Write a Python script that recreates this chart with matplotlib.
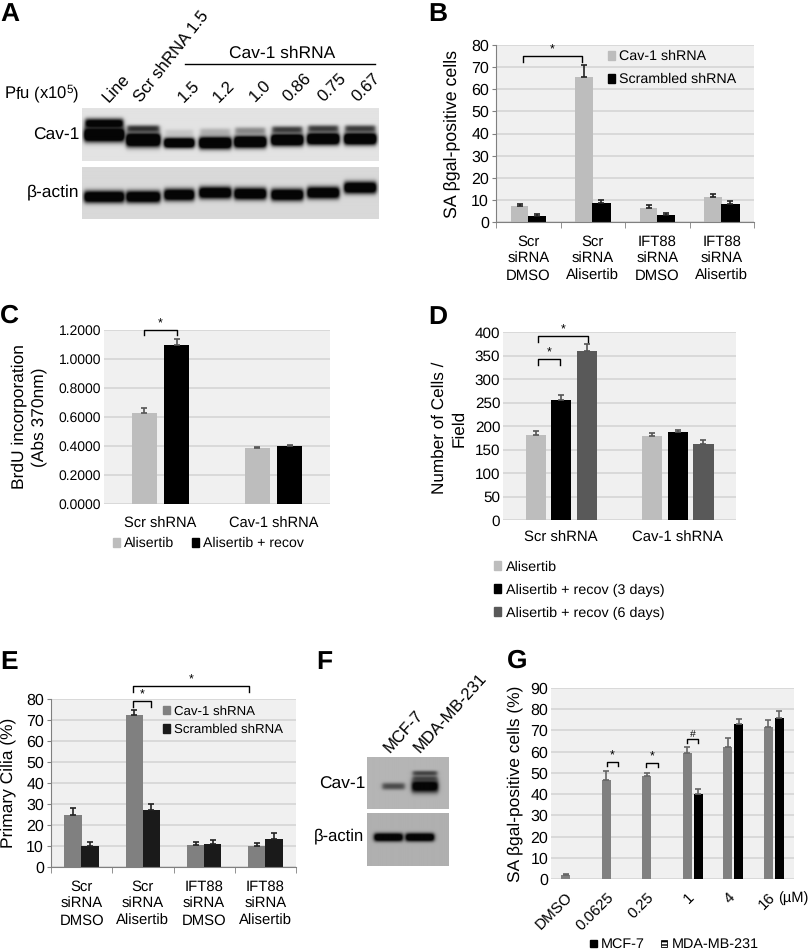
import matplotlib
matplotlib.use("Agg")
import matplotlib.pyplot as plt
import numpy as np
from matplotlib.patches import Patch

plt.rcParams["font.family"] = ["Liberation Sans", "DejaVu Sans"]
plt.rcParams["mathtext.default"] = "regular"
plt.rcParams["text.hinting"] = "none"

W, H = 810, 952

# Panel B
sen_groups = ["Scr\nsiRNA\nDMSO", "Scr\nsiRNA\nAlisertib", "IFT88\nsiRNA\nDMSO", "IFT88\nsiRNA\nAlisertib"]
b_cav = [7.3, 65.5, 6.5, 11.3]
b_cav_err = [0.7, 5.5, 1.0, 1.4]
b_scr = [2.7, 8.5, 3.3, 8.0]
b_scr_err = [1.0, 1.4, 0.9, 1.4]

# Panel C
shrna_groups = ["Scr shRNA", "Cav-1 shRNA"]
c_ali = [0.627, 0.389]
c_ali_err = [0.036, 0.006]
c_rec = [1.094, 0.398]
c_rec_err = [0.046, 0.012]

# Panel D
d_ali = [181, 178]
d_ali_err = [9, 8]
d_rec3 = [256, 187]
d_rec3_err = [10, 5]
d_rec6 = [359, 162]
d_rec6_err = [15, 9]

# Panel E
e_cav = [25, 72.5, 10.5, 9.8]
e_cav_err = [3, 2.3, 1.2, 1.4]
e_scr = [9.8, 27, 11, 13.2]
e_scr_err = [1.9, 3, 1.7, 2.8]

# Panel G
g_doses = ["DMSO", "0.0625", "0.25", "1", "4", "16"]
g_mcf = [1.9, 46.5, 48.5, 59.6, 62.3, 71.8]
g_mcf_err = [0.3, 4.2, 1.5, 2.8, 4.2, 3.0]
g_mda = [np.nan, np.nan, np.nan, 40.2, 73.2, 76.0]
g_mda_err = [0, 0, 0, 2.2, 2.2, 3.0]

# Panel A blot, one entry per lane
a_lanes = ["Line", "Scr shRNA 1.5", "1.5", "1.2", "1.0", "0.86", "0.75", "0.67"]
a_label_x = [108, 141, 184, 219, 256, 289, 324, 358]
a_label_rot = [47, 52, 45, 45, 45, 45, 45, 45]
a_lane_x = [104, 143, 179, 215, 250, 287, 323, 360]
a_lane_w = [20, 17, 15, 16, 16, 16, 16, 16]
a_cav_hi_y = [124, 129, 133, 132, 131, 130, 129, 129]
a_cav_hi_d = [1.2, 0.8, 0.13, 0.22, 0.4, 0.75, 0.75, 0.75]
a_cav_lo_y = [135, 140, 143, 143, 142, 140, 139, 139]
a_cav_lo_h = [7, 7, 5, 6, 6, 6, 6, 6]
a_actin_y = [197, 197, 195, 193, 194, 195, 193, 188]

# Panel F blot
f_lanes = ["MCF-7", "MDA-MB-231"]
f_label_x = [391, 421]
f_lane_x = [393, 424]
f_lane_w = [11, 13]
f_cav_hi_d = [0.0, 0.65]
f_cav_mid_d = [0.0, 0.55]
f_cav_lo_d = [0.6, 1.2]
f_cav_lo_h = [3.5, 6.5]
f_actin_x = [388, 419]
f_actin_w = [14, 14]

LIGHT, DARK, MID = "#bdbdbd", "#000000", "#595959"
GREY, NEAR_BLACK = "#808080", "#1a1a1a"
BG, GRID = "#f0f0f0", "#d9d9d9"

fig = plt.figure(figsize=(W / 100, H / 100), dpi=100, facecolor="white")
page = fig.add_axes([0, 0, 1, 1])
page.set_xlim(0, W)
page.set_ylim(H, 0)
page.axis("off")


def chart(x0, y0, x1, y1, ymax, step, n, fs=9.5, fmt=None, axis_line=False):
    ax = fig.add_axes([x0 / W, 1 - y1 / H, (x1 - x0) / W, (y1 - y0) / H], facecolor=BG)
    ax.set_xlim(0, n)
    ax.set_ylim(0, ymax)
    ticks = np.arange(0, ymax + step / 2, step)
    ax.set_yticks(ticks)
    ax.set_yticklabels([fmt % t if fmt else "%d" % t for t in ticks], fontsize=fs)
    ax.grid(axis="y", color=GRID, lw=1.4)
    ax.set_axisbelow(True)
    for s in ["top", "right"]:
        ax.spines[s].set_visible(False)
    for s in ["left", "bottom"]:
        ax.spines[s].set_visible(axis_line)
        ax.spines[s].set_color("#808080")
    ax.tick_params(axis="y", length=3 if axis_line else 0, color="#808080", pad=2)
    ax.tick_params(axis="x", length=0, labelsize=fs)
    ax.set_xticks(np.arange(n) + 0.5)
    if axis_line:
        ax.set_xticks(np.arange(n + 1), minor=True)
        ax.tick_params(axis="x", which="minor", length=4, color="#808080")
    return ax


def bars(ax, offset, width, values, errs, color, ecolor):
    x = np.arange(len(values)) + 0.5 + offset
    ax.bar(x, values, width, color=color, zorder=2)
    ax.errorbar(x, values, yerr=[np.zeros(len(errs)), errs], fmt="none", ecolor=ecolor,
                elinewidth=1.2, capsize=2.5, capthick=1.2, zorder=3)


def bracket(ax, x0, x1, y, drop, mark="*", fs=9):
    ax.plot([x0, x0, x1, x1], [y - drop, y, y, y - drop], color="black", lw=1,
            clip_on=False, zorder=5)
    ax.text((x0 + x1) / 2, y, mark, ha="center", va="bottom", fontsize=fs, clip_on=False)


def key(ax, handles_colors, labels, x, y, fs, ncol=1, spacing=0.7, colgap=1.2):
    hs = [Patch(color=c, label=l) for c, l in zip(handles_colors, labels)]
    ax.legend(handles=hs, loc="upper left", bbox_to_anchor=(x, y), bbox_transform=page.transData,
              frameon=False, fontsize=fs, ncol=ncol, handlelength=0.5, handleheight=0.6,
              handletextpad=0.3, labelspacing=spacing, columnspacing=colgap,
              borderpad=0, borderaxespad=0)


def band(xx, yy, cx, cy, hw, hh, d, soft=2.2):
    bx = 0.5 * (np.tanh((xx - cx + hw) / soft) - np.tanh((xx - cx - hw) / soft))
    by = np.exp(-np.abs((yy - cy) / hh) ** 2.5)
    return d * bx * by


def blot(x0, y0, x1, y1, bg, rows):
    xx, yy = np.meshgrid(np.arange(x0, x1, 0.5), np.arange(y0, y1, 0.5))
    clear = np.ones_like(xx)
    for cx, cy, hw, hh, d in rows:
        clear *= 1 - np.clip(band(xx, yy, cx, cy, hw, hh, d), 0, 1)
    img = (bg * clear) + 0.02 * (1 - clear)
    ax = fig.add_axes([x0 / W, 1 - y1 / H, (x1 - x0) / W, (y1 - y0) / H])
    ax.imshow(img, cmap="gray", vmin=0, vmax=1, aspect="auto", interpolation="bilinear")
    ax.axis("off")


def letter(x, y, s):
    page.text(x, y, s, fontsize=19, fontweight="bold", va="baseline")


# A
rows = []
for i in range(len(a_lanes)):
    rows.append((a_lane_x[i], a_cav_hi_y[i], a_lane_w[i] - 1, 5 if i == 0 else 3.5, a_cav_hi_d[i]))
    rows.append((a_lane_x[i], a_cav_lo_y[i], a_lane_w[i], a_cav_lo_h[i], 1.6))
blot(82, 108, 379, 161, 0.89, rows)
blot(82, 167, 379, 219, 0.85,
     [(a_lane_x[i], a_actin_y[i], a_lane_w[i], 6, 1.4) for i in range(len(a_lanes))])
letter(0, 21, "A")
page.text(4, 94, "Pfu (x10$^5$)", fontsize=12, va="center")
page.text(79, 135, "Cav-1", fontsize=12.5, ha="right", va="center")
page.text(79, 192, "β-actin", fontsize=12.5, ha="right", va="center")
page.text(282, 53, "Cav-1 shRNA", fontsize=12.5, ha="center", va="center")
page.plot([185, 375], [64, 64], color="black", lw=1)
for i, lab in enumerate(a_lanes):
    page.text(a_label_x[i], 103, lab, fontsize=12.2, rotation=a_label_rot[i], rotation_mode="anchor",
              ha="left", va="baseline")

# B
ax = chart(496, 45, 754, 222, 80, 10, 4, fs=11.5, axis_line=True)
bars(ax, -0.135, 0.27, b_cav, b_cav_err, LIGHT, "#222222")
bars(ax, 0.135, 0.29, b_scr, b_scr_err, DARK, "#222222")
ax.set_xticklabels(sen_groups, fontsize=10.7, linespacing=1.3)
ax.tick_params(axis="x", pad=9)
bracket(ax, 0.413, 1.34, 75, 2.5)
key(ax, [LIGHT, DARK], ["Cav-1 shRNA", "Scrambled shRNA"], 608, 50, 10.3)
page.text(452, 134, "SA βgal-positive cells", fontsize=12.8, rotation=90, ha="center", va="center")
letter(428, 21, "B")

# C
ax = chart(104, 330, 330, 504, 1.2, 0.2, 2, fs=10, fmt="%.4f")
bars(ax, -0.143, 0.22, c_ali, c_ali_err, LIGHT, "#555555")
bars(ax, 0.143, 0.22, c_rec, c_rec_err, DARK, "#555555")
ax.set_xticklabels(shrna_groups, fontsize=10.5)
ax.tick_params(axis="x", pad=9)
bracket(ax, 0.354, 0.65, 1.2, 0.035)
key(ax, [LIGHT, DARK], ["Alisertib", "Alisertib + recov"], 113, 537, 10.2, ncol=2)
page.text(29, 417, "BrdU incorporation\n(Abs 370nm)", fontsize=12.5, rotation=90, ha="center",
          va="center", linespacing=1.3, multialignment="center")
letter(0, 323, "C")

# D
ax = chart(503, 332, 736, 520, 400, 50, 2, fs=11)
bars(ax, -0.22, 0.17, d_ali, d_ali_err, LIGHT, "#555555")
bars(ax, 0, 0.175, d_rec3, d_rec3_err, DARK, "#555555")
bars(ax, 0.22, 0.175, d_rec6, d_rec6_err, MID, "#555555")
ax.set_xticklabels(shrna_groups, fontsize=10.7)
ax.tick_params(axis="x", pad=8)
bracket(ax, 0.3, 0.73, 391, 13)
bracket(ax, 0.3, 0.49, 342, 13)
key(ax, [LIGHT, DARK, MID], ["Alisertib", "Alisertib + recov (3 days)", "Alisertib + recov (6 days)"],
    494, 560.5, 10.4)
page.text(449, 428, "Number of Cells /\nField", fontsize=12.3, rotation=90, ha="center",
          va="center", linespacing=1.3, multialignment="center")
letter(428, 324, "D")

# E
ax = chart(51, 699, 296, 867, 80, 10, 4, fs=11.5, axis_line=True)
bars(ax, -0.14, 0.285, e_cav, e_cav_err, GREY, "#222222")
bars(ax, 0.14, 0.285, e_scr, e_scr_err, NEAR_BLACK, "#222222")
ax.set_xticklabels(sen_groups, fontsize=10.7, linespacing=1.3)
ax.tick_params(axis="x", pad=9)
bracket(ax, 1.34, 1.63, 79, 2.7)
bracket(ax, 1.34, 3.23, 86.3, 2.9)
key(ax, [GREY, NEAR_BLACK], ["Cav-1 shRNA", "Scrambled shRNA"], 163, 705, 9.5, spacing=0.5)
page.text(8.5, 783, "Primary Cilia (%)", fontsize=12.5, rotation=90, ha="center", va="center")
letter(0, 669, "E")

# F
blot(367, 757, 448, 809, 0.71,
     [(f_lane_x[i], 773, f_lane_w[i] - 1, 2.6, f_cav_hi_d[i]) for i in range(2)]
     + [(f_lane_x[i], 778, f_lane_w[i] - 1, 2.6, f_cav_mid_d[i]) for i in range(2)]
     + [(f_lane_x[i], 786, f_lane_w[i], f_cav_lo_h[i], f_cav_lo_d[i]) for i in range(2)])
blot(367, 813, 448, 866, 0.69,
     [(f_actin_x[i], 837, f_actin_w[i], 4.2, 1.4) for i in range(2)])
page.text(365, 784, "Cav-1", fontsize=12.5, ha="right", va="center")
page.text(364, 836, "β-actin", fontsize=12, ha="right", va="center")
for i, lab in enumerate(f_lanes):
    page.text(f_label_x[i], 754, lab, fontsize=12, rotation=48, rotation_mode="anchor",
              ha="left", va="baseline")
letter(316, 669, "F")

# G
ax = chart(551, 688, 794, 879, 90, 10, 6, fs=11.5)
bars(ax, -0.14, 0.225, g_mcf, g_mcf_err, GREY, "#666666")
bars(ax, 0.14, 0.225, g_mda, g_mda_err, DARK, "#666666")
ax.set_xticklabels([])
for i, dose in enumerate(g_doses):
    ax.annotate(dose, xy=(i + 0.5, 0), xycoords=("data", "axes fraction"), xytext=(-4, -8),
                textcoords="offset points", rotation=45, rotation_mode="anchor", ha="right",
                va="top", fontsize=11)
bracket(ax, 1.38, 1.65, 55, 1.7)
bracket(ax, 2.35, 2.63, 54.5, 1.7)
bracket(ax, 3.36, 3.62, 66, 1.7, mark="#", fs=7.5)
page.text(778, 898, "(µM)", fontsize=10.5, ha="left", va="center")
page.text(515, 784, "SA βgal-positive cells (%)", fontsize=12.5, rotation=90, ha="center", va="center")
letter(507, 668, "G")
page.add_patch(plt.Rectangle((590, 940), 7, 7, color="black"))
page.text(601, 944, "MCF-7", fontsize=10.4, va="center")
page.add_patch(plt.Rectangle((661, 940), 6, 7, facecolor="white", edgecolor="black", hatch="-----", lw=0.6))
page.text(672, 944, "MDA-MB-231", fontsize=10.4, va="center")

fig.savefig("out.png", dpi=100)
